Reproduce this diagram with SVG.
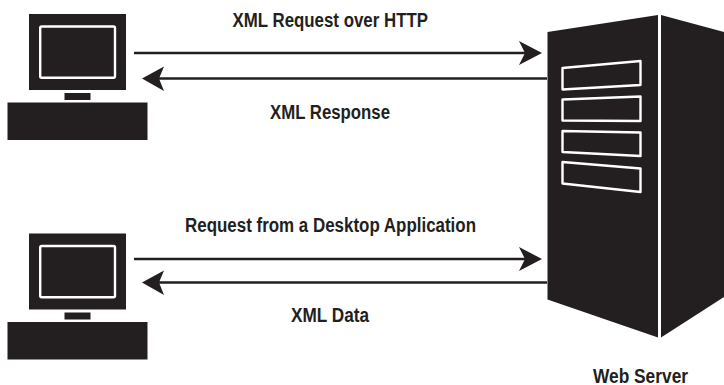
<svg xmlns="http://www.w3.org/2000/svg" width="724" height="385" viewBox="0 0 724 385">
<style>
.k{fill:#231f20}
.w{fill:none;stroke:#fff;stroke-width:2.4;stroke-linejoin:round}
.l{fill:none;stroke:#231f20;stroke-width:2.6}
text{font-family:"Liberation Sans",Arial,sans-serif;font-weight:bold;font-size:20px;fill:#231f20}
</style>
<defs>
<g id="pc">
<rect class="k" x="29" y="14" width="97" height="76"/>
<rect class="w" x="40.200" y="26.500" width="74.800" height="51.200" rx="1.500"/>
<rect class="k" x="64.500" y="93" width="26" height="7"/>
<rect class="k" x="7.500" y="102.500" width="140" height="37.500"/>
</g>
</defs>
<rect width="724" height="385" fill="#fff"/>
<g id="connectors">
<path class="l" d="M134 53H530"/>
<path class="k" d="M542 53L519 41L525 53L519 65Z"/>
<path class="l" d="M547 78.500H152"/>
<path class="k" d="M142 78.500L164 66.500L159 78.500L164 91Z"/>
<path class="l" d="M134 259H530"/>
<path class="k" d="M542 259L519 247L525 259L519 271Z"/>
<path class="l" d="M547 282.500H152"/>
<path class="k" d="M142 282.500L164 270.500L159 282.500L164 295Z"/>
</g>
<g id="client-1"><use href="#pc"/></g>
<g id="client-2"><use href="#pc" y="219.500"/></g>
<g id="server">
<path class="k" d="M547.500 32L658 15V337.500L547.500 299.500Z"/>
<path class="k" d="M661 15L724 32V297L661 337.500Z"/>
<path class="w" d="M562.500 68L640.500 61V85L562.500 89.500Z"/>
<path class="w" d="M562.500 99.500L640.500 96.500V121L562.500 120.500Z"/>
<path class="w" d="M562.500 131L640.500 132.500V156L562.500 152Z"/>
<path class="w" d="M562.500 162L640.500 168.500V192L562.500 183.500Z"/>
</g>
<g id="labels">
<text x="232.500" y="26.700" textLength="195.500" lengthAdjust="spacingAndGlyphs">XML Request over HTTP</text>
<text x="270" y="118.500" textLength="120" lengthAdjust="spacingAndGlyphs">XML Response</text>
<text x="185" y="232" textLength="291" lengthAdjust="spacingAndGlyphs">Request from a Desktop Application</text>
<text x="291" y="321.800" textLength="78" lengthAdjust="spacingAndGlyphs">XML Data</text>
<text x="593" y="382.500" textLength="95" lengthAdjust="spacingAndGlyphs">Web Server</text>
</g>
</svg>
